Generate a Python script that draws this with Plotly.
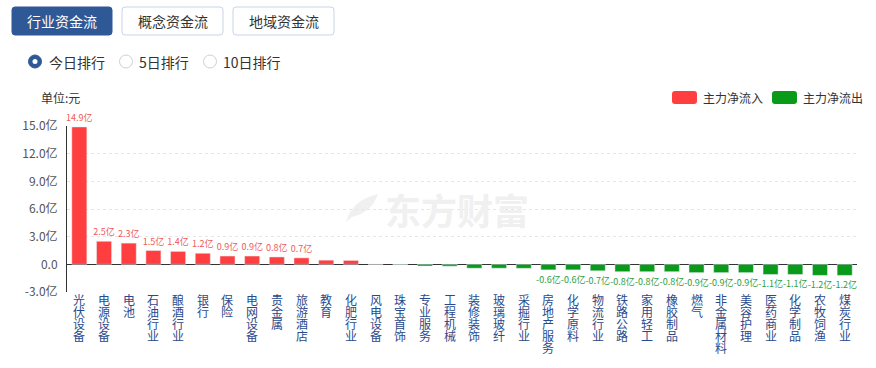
import plotly.graph_objects as go

# ---------------- data ----------------
categories = ["光伏设备", "电源设备", "电池", "石油行业", "酿酒行业", "银行", "保险", "电网设备",
              "贵金属", "旅游酒店", "教育", "化肥行业", "风电设备", "珠宝首饰", "专业服务", "工程机械",
              "装修装饰", "玻璃玻纤", "采掘行业", "房地产服务", "化学原料", "物流行业", "铁路公路",
              "家用轻工", "橡胶制品", "燃气", "非金属材料", "美容护理", "医药商业", "化学制品",
              "农牧饲渔", "煤炭行业"]
net_flow = [14.9, 2.5, 2.3, 1.5, 1.4, 1.2, 0.9, 0.9, 0.8, 0.7, 0.45, 0.42, 0.01, -0.02,
            -0.18, -0.2, -0.42, -0.42, -0.43, -0.6, -0.6, -0.7, -0.8, -0.8, -0.8, -0.9,
            -0.9, -0.9, -1.1, -1.1, -1.2, -1.2]
y_tickvals = [-3, 0, 3, 6, 9, 12, 15]
y_ticktext = ["-3.0亿", "0.0", "3.0亿", "6.0亿", "9.0亿", "12.0亿", "15.0亿"]
tabs = ["行业资金流", "概念资金流", "地域资金流"]
radios = ["今日排行", "5日排行", "10日排行"]
legend_names = ["主力净流入", "主力净流出"]

RED = "#FF3F3F"
GREEN = "#0A9A1A"
NAVY = "#2B4A8B"
BLUE = "#2F5896"
FONT = "Noto Sans CJK SC"

labels = [f"{v:.1f}亿" if abs(v) >= 0.55 else "" for v in net_flow]
pos_x = [c for c, v in zip(categories, net_flow) if v >= 0]
pos_y = [v for v in net_flow if v >= 0]
pos_t = [t for t, v in zip(labels, net_flow) if v >= 0]
neg_x = [c for c, v in zip(categories, net_flow) if v < 0]
neg_y = [v for v in net_flow if v < 0]
neg_t = [t for t, v in zip(labels, net_flow) if v < 0]

# ---------------- layout helpers (pixel -> paper) ----------------
W, H = 876, 368
L, R, T, B = 67, 19, 126, 76
PW, PH = W - L - R, H - T - B


def px(x):
    return (x - L) / PW


def py(y):
    return (H - B - y) / PH


def rrect(x0, y0, x1, y1, r):
    X, Y = px, py
    return (f"M {X(x0 + r)},{Y(y0)} L {X(x1 - r)},{Y(y0)} Q {X(x1)},{Y(y0)} {X(x1)},{Y(y0 + r)} "
            f"L {X(x1)},{Y(y1 - r)} Q {X(x1)},{Y(y1)} {X(x1 - r)},{Y(y1)} "
            f"L {X(x0 + r)},{Y(y1)} Q {X(x0)},{Y(y1)} {X(x0)},{Y(y1 - r)} "
            f"L {X(x0)},{Y(y0 + r)} Q {X(x0)},{Y(y0)} {X(x0 + r)},{Y(y0)} Z")


fig = go.Figure()
fig.add_trace(go.Bar(x=pos_x, y=pos_y, name=legend_names[0], marker_color=RED,
                     text=pos_t, textposition="outside", constraintext="none",
                     textfont=dict(size=9, color="#EE5A5A", family=FONT), cliponaxis=False))
fig.add_trace(go.Bar(x=neg_x, y=neg_y, name=legend_names[1], marker_color=GREEN,
                     text=neg_t, textposition="outside", constraintext="none",
                     textfont=dict(size=9, color="#2E9E3E", family=FONT), cliponaxis=False))

shapes = []
annotations = []

# tabs
tab_boxes = [(12, 112), (122, 223), (233, 334)]
for i, (name, (x0, x1)) in enumerate(zip(tabs, tab_boxes)):
    sel = i == 0
    shapes.append(dict(type="path", xref="paper", yref="paper", path=rrect(x0, 7, x1, 35, 3),
                       fillcolor=BLUE if sel else "white",
                       line=dict(color=BLUE if sel else "#C9D5E6", width=1)))
    annotations.append(dict(xref="paper", yref="paper", x=px((x0 + x1) / 2), y=py(21.5),
                            text=name, showarrow=False, xanchor="center", yanchor="middle",
                            font=dict(size=14, color="white" if sel else "#333", family=FONT)))

# radios
radio_pos = [(35, 47), (126, 137), (210, 221)]
for i, (name, (cx, tx)) in enumerate(zip(radios, radio_pos)):
    cy = 61.5
    if i == 0:
        shapes.append(dict(type="circle", xref="paper", yref="paper",
                           x0=px(cx - 6.5), x1=px(cx + 6.5), y0=py(cy + 6.5), y1=py(cy - 6.5),
                           fillcolor=BLUE, line=dict(color=BLUE, width=1)))
        shapes.append(dict(type="circle", xref="paper", yref="paper",
                           x0=px(cx - 2.5), x1=px(cx + 2.5), y0=py(cy + 2.5), y1=py(cy - 2.5),
                           fillcolor="white", line=dict(color="white", width=0)))
    else:
        shapes.append(dict(type="circle", xref="paper", yref="paper",
                           x0=px(cx - 6.5), x1=px(cx + 6.5), y0=py(cy + 6.5), y1=py(cy - 6.5),
                           fillcolor="white", line=dict(color="#D0D0D0", width=1)))
    annotations.append(dict(xref="paper", yref="paper", x=px(tx), y=py(cy), text=name,
                            showarrow=False, xanchor="left", yanchor="middle",
                            font=dict(size=14, color="#333", family=FONT)))

# unit label
annotations.append(dict(xref="paper", yref="paper", x=px(39), y=py(98), text="单位:元",
                        showarrow=False, xanchor="left", yanchor="middle",
                        font=dict(size=12, color="#333", family=FONT)))

# custom legend
for name, col, x0 in zip(legend_names, [RED, GREEN], [672, 772]):
    shapes.append(dict(type="path", xref="paper", yref="paper", path=rrect(x0, 91, x0 + 25, 104, 3),
                       fillcolor=col, line=dict(color=col, width=0)))
    annotations.append(dict(xref="paper", yref="paper", x=px(x0 + 29), y=py(97.5), text=name,
                            showarrow=False, xanchor="left", yanchor="middle",
                            font=dict(size=12, color="#333", family=FONT)))

# watermark (logo + text)
logo = (f"M {px(346)},{py(222)} Q {px(352)},{py(200)} {px(378)},{py(194)} "
        f"Q {px(372)},{py(212)} {px(352)},{py(217)} Z")
shapes.append(dict(type="path", xref="paper", yref="paper", path=logo, layer="below",
                   fillcolor="#F0F0F0", line=dict(width=0)))
annotations.append(dict(xref="paper", yref="paper", x=px(383), y=py(209), text="<b>东方财富</b>",
                        showarrow=False, xanchor="left", yanchor="middle",
                        font=dict(size=36, color="#F0F0F0", family=FONT)))

# vertical category labels, one character per line
for cat in categories:
    for j, ch in enumerate(cat):
        annotations.append(dict(xref="x", yref="paper", x=cat, y=0, text=ch, showarrow=False,
                                xanchor="center", yanchor="top", yshift=3 - 12 * j,
                                font=dict(size=12, color=NAVY, family=FONT)))

fig.update_layout(
    width=W, height=H, margin=dict(l=L, r=R, t=T, b=B, pad=0),
    paper_bgcolor="white", plot_bgcolor="white",
    barmode="overlay", bargap=0.39, showlegend=False,
    font=dict(family=FONT, size=12, color="#333"),
    shapes=shapes, annotations=annotations,
    xaxis=dict(type="category", categoryorder="array", categoryarray=categories,
               range=[-0.5, len(categories) - 0.5], showticklabels=False, showgrid=False,
               zeroline=False, showline=False, fixedrange=True),
    yaxis=dict(range=[-3, 15], tickvals=y_tickvals, ticktext=y_ticktext,
               tickfont=dict(size=12, color="#555", family=FONT), ticklabelstandoff=6,
               showgrid=True, gridcolor="#E6E6E6", griddash="dot", gridwidth=1,
               zeroline=True, zerolinecolor="#333", zerolinewidth=1,
               showline=True, linecolor="#333", linewidth=1, fixedrange=True),
)

fig.write_html("out.html", config={"displayModeBar": False},
               post_script="document.body.style.margin='0';")
